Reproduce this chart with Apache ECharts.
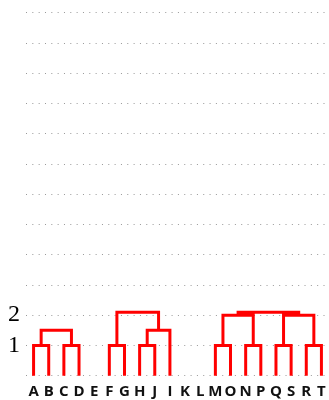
<!DOCTYPE html>
<html>
<head>
<meta charset="utf-8">
<script src="https://cdn.jsdelivr.net/npm/echarts@6/dist/echarts.min.js"></script>
<style>
html,body{margin:0;padding:0;background:#fff;}
#c{width:329px;height:400px;}
</style>
</head>
<body>
<div id="c"></div>
<script>
// Leaf order along the x axis
const leaves = ['A','B','C','D','E','F','G','H','J','I','K','L','M','O','N','P','Q','S','R','T'];
// Merges: [left child, right child, height]; children are leaf names or merge ids "#n"
const mergeLeft   = ['A','C','#0','F','H','#4','#3','M','N','Q','R','#7','#9','#11'];
const mergeRight  = ['B','D','#1','G','J','I', '#5','O','P','S','T','#8','#10','#12'];
const mergeHeight = [1,  1,  1.5, 1,  1,  1.5, 2.1, 1,  1,  1,  1,  2,   2,    2.1];
// Y tick labels (only these values are labelled)
const yTickLabels = {1:'1', 2:'2'};
const yMax = 12;

const nodes = [];
function nodeInfo(ref){
  if (ref[0] === '#') return nodes[parseInt(ref.slice(1))];
  return {x: leaves.indexOf(ref), h: 0};
}
const linePts = [];
for (let i = 0; i < mergeLeft.length; i++){
  const l = nodeInfo(mergeLeft[i]), r = nodeInfo(mergeRight[i]), h = mergeHeight[i];
  linePts.push([l.x, l.h],[l.x, h],[r.x, h],[r.x, r.h], null);
  nodes.push({x:(l.x + r.x)/2, h:h});
}

const chart = echarts.init(document.getElementById('c'), null, {renderer:'canvas'});
chart.setOption({
  backgroundColor:'#fff',
  animation:false,
  grid:{left:26, right:0, top:12.7, bottom:24.3},
  xAxis:[
    {type:'category', data:leaves, boundaryGap:true,
     axisLine:{show:false}, axisTick:{show:false}, splitLine:{show:false},
     axisLabel:{interval:0, margin:9, color:'#111', fontFamily:'Open Sans', fontWeight:'bold', fontSize:15}},
    {type:'value', min:-0.5, max:leaves.length-0.5, show:false}
  ],
  yAxis:{type:'value', min:0, max:yMax, interval:1,
    axisLine:{show:false}, axisTick:{show:false},
    splitLine:{show:true, lineStyle:{color:'#999', width:1, type:[1,5.33]}},
    axisLabel:{margin:6, color:'#000', fontFamily:'Liberation Serif', fontSize:24,
      formatter:function(v){ return yTickLabels[v] || ''; }}
  },
  series:[{
    type:'line', xAxisIndex:1, data:linePts, showSymbol:false, symbol:'none',
    connectNulls:false,
    lineStyle:{color:'#ff0000', width:3, join:'miter', cap:'butt'}
  }]
});
</script>
</body>
</html>
